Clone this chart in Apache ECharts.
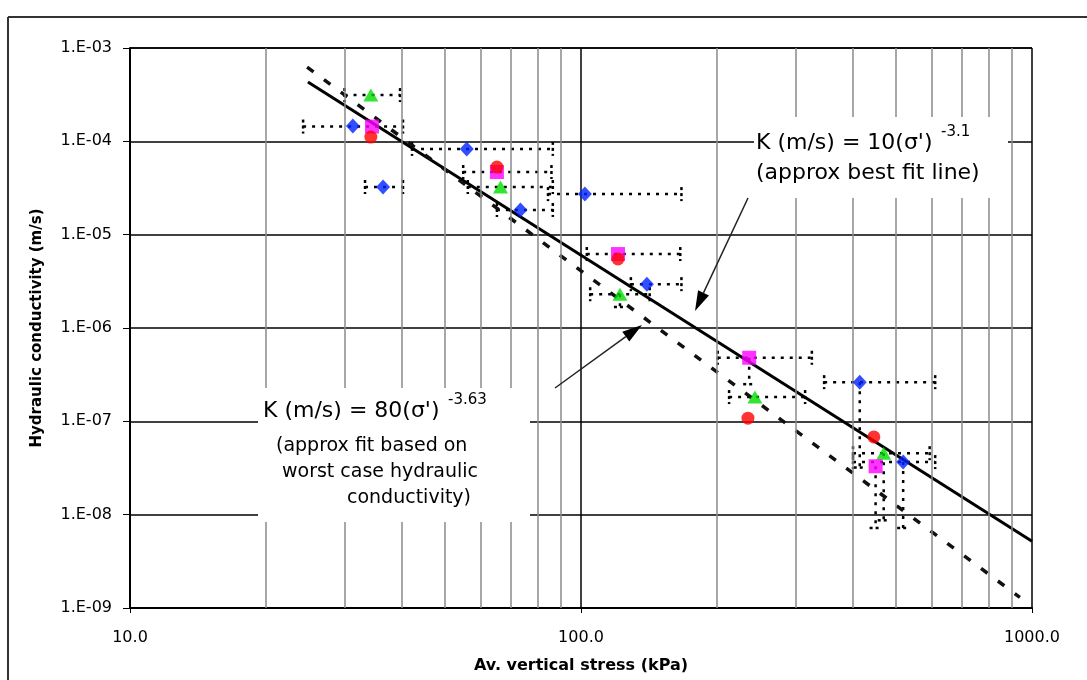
<!DOCTYPE html>
<html>
<head>
<meta charset="utf-8">
<script src="https://cdn.jsdelivr.net/npm/echarts/dist/echarts.min.js"></script>
<style>
  body { margin: 0; background: #fff; }
  #main { width: 1087px; height: 680px; }
</style>
</head>
<body>
<div id="main"></div>
<script>
/*------------------------------ data ------------------------------*/
// red circles
var redStress = [34.2, 65.1, 120.8, 234.5, 446];
var redK = [1.11e-4, 5.3e-5, 5.5e-6, 1.08e-7, 6.8e-8];

// magenta squares (+ dotted error ranges, 0 = none)
var magStress = [34.4, 65.1, 120.8, 236, 450];
var magK = [1.44e-4, 4.69e-5, 6.2e-6, 4.8e-7, 3.3e-8];
var magStressLo = [24.2, 54.8, 103, 201, 0];
var magStressHi = [40.3, 86.0, 166, 325, 0];
var magKLo = [0, 0, 0, 2.5e-7, 7.2e-9];

// green triangles
var greenStress = [34.2, 66.3, 122, 243, 469];
var greenK = [3.13e-4, 3.24e-5, 2.3e-6, 1.82e-7, 4.56e-8];
var greenStressLo = [29.9, 56.1, 104.8, 213, 401];
var greenStressHi = [39.7, 86.6, 142, 314, 593];
var greenKLo = [0, 0, 1.68e-6, 0, 8.7e-9];

// blue diamonds
var blueStress = [31.2, 36.4, 55.8, 73.4, 102, 140, 415, 518];
var blueK = [1.46e-4, 3.24e-5, 8.3e-5, 1.84e-5, 2.72e-5, 2.95e-6, 2.63e-7, 3.66e-8];
var blueStressLo = [0, 33.2, 42.2, 65.1, 84.5, 129, 346, 401];
var blueStressHi = [0, 40.3, 86.6, 86.6, 167, 167, 610, 610];
var blueKLo = [0, 0, 0, 0, 0, 0, 3.2e-8, 7.2e-9];

// fit lines (end points)
var fitStress = [24.8, 1000];
var fitK = [4.33e-4, 5.2e-9];
var worstStress = [24.7, 940];
var worstK = [6.25e-4, 1.3e-9];

// minor vertical grid lines
var minorStress = [20, 30, 40, 50, 60, 70, 80, 90, 200, 300, 400, 500, 600, 700, 800, 900];

/*------------------------------ helpers ------------------------------*/
function pairs(xs, ys) {
    return xs.map(function (x, i) { return [x, ys[i]]; });
}
var errData = [];
function addErr(xs, ys, lo, hi, klo) {
    for (var i = 0; i < xs.length; i++) {
        errData.push([xs[i], ys[i], lo ? lo[i] : 0, hi ? hi[i] : 0, klo ? klo[i] : 0]);
    }
}
addErr(magStress, magK, magStressLo, magStressHi, magKLo);
addErr(greenStress, greenK, greenStressLo, greenStressHi, greenKLo);
addErr(blueStress, blueK, blueStressLo, blueStressHi, blueKLo);

function dotLine(x1, y1, x2, y2, dash) {
    return {
        type: 'line',
        shape: { x1: x1, y1: y1, x2: x2, y2: y2 },
        style: { stroke: '#000', lineWidth: 2.5, lineDash: dash || [3, 6] }
    };
}

function renderErr(params, api) {
    var x = api.value(0), y = api.value(1);
    var xlo = api.value(2), xhi = api.value(3), klo = api.value(4);
    var p = api.coord([x, y]);
    var ch = [];
    if (xlo > 0) {
        var a = api.coord([xlo, y]), b = api.coord([xhi, y]);
        ch.push(dotLine(a[0], a[1], b[0], b[1]));
        ch.push(dotLine(a[0], a[1] - 7, a[0], a[1] + 7, [3, 3]));
        ch.push(dotLine(b[0], b[1] - 7, b[0], b[1] + 7, [3, 3]));
    }
    if (klo > 0) {
        var c = api.coord([x, klo]);
        ch.push(dotLine(p[0], p[1], c[0], c[1]));
        ch.push(dotLine(c[0] - 6, c[1], c[0] + 6, c[1], [3, 3]));
    }
    return { type: 'group', children: ch };
}

// arrow = line + filled head
function arrow(x1, y1, x2, y2) {
    var dx = x2 - x1, dy = y2 - y1, L = Math.sqrt(dx * dx + dy * dy);
    var ux = dx / L, uy = dy / L, hl = 20, hw = 6;
    var bx = x2 - ux * hl, by = y2 - uy * hl;
    return [
        { type: 'line', z: 60, shape: { x1: x1, y1: y1, x2: bx, y2: by }, style: { stroke: '#222', lineWidth: 1.5 } },
        { type: 'polygon', z: 60, shape: { points: [[x2, y2], [bx - uy * hw, by + ux * hw], [bx + uy * hw, by - ux * hw]] }, style: { fill: '#000' } }
    ];
}

function txt(x, y, s, size) {
    return {
        type: 'text', z: 55, x: x, y: y,
        style: { text: s, fontFamily: 'DejaVu Sans', fontSize: size, fill: '#000', verticalAlign: 'middle' }
    };
}

var FONT = 'DejaVu Sans';

/*------------------------------ chart ------------------------------*/
var myChart = echarts.init(document.getElementById('main'));

var option = {
    animation: false,
    grid: { left: 130, right: 55, top: 48, bottom: 72 },
    xAxis: {
        type: 'log',
        logBase: 10,
        min: 10,
        max: 1000,
        interval: 1,
        name: 'Av. vertical stress (kPa)',
        nameLocation: 'middle',
        nameGap: 50,
        nameTextStyle: { fontFamily: FONT, fontSize: 16, fontWeight: 'bold', color: '#000' },
        axisLine: { lineStyle: { color: '#000', width: 2 } },
        axisTick: { show: true, length: 5, lineStyle: { color: '#000' } },
        axisLabel: {
            margin: 22, fontFamily: FONT, fontSize: 16, color: '#000',
            formatter: function (v) { return v.toFixed(1); }
        },
        splitLine: { show: true, lineStyle: { color: '#000', width: 1.5 } }
    },
    yAxis: {
        type: 'log',
        logBase: 10,
        min: 1e-9,
        max: 1e-3,
        interval: 1,
        name: 'Hydraulic conductivity (m/s)',
        nameLocation: 'middle',
        nameGap: 85,
        nameTextStyle: { fontFamily: FONT, fontSize: 15, fontWeight: 'bold', color: '#000' },
        axisLine: { lineStyle: { color: '#000', width: 2 } },
        axisTick: { show: true, length: 7, lineStyle: { color: '#000' } },
        axisLabel: {
            margin: 18, fontFamily: FONT, fontSize: 16, color: '#000',
            formatter: function (v) {
                var e = Math.round(Math.log10(v));
                return '1.E-' + ('0' + (-e)).slice(-2);
            }
        },
        splitLine: { show: true, lineStyle: { color: '#000', width: 1.5 } }
    },
    series: [
        {   // minor vertical grid
            type: 'line', data: [], z: 1, silent: true,
            markLine: {
                silent: true, symbol: 'none', label: { show: false },
                lineStyle: { color: '#8a8a8a', width: 1.5, type: 'solid' },
                data: minorStress.map(function (v) { return { xAxis: v }; })
            }
        },
        {   // error bars
            type: 'custom', z: 3, clip: false, silent: true,
            encode: { x: 0, y: 1 },
            renderItem: renderErr,
            data: errData
        },
        {
            name: 'best fit', type: 'line', z: 4, symbol: 'none', silent: true,
            lineStyle: { color: '#000', width: 3 },
            data: pairs(fitStress, fitK)
        },
        {
            name: 'worst case', type: 'line', z: 4, symbol: 'none', silent: true,
            lineStyle: { color: '#111', width: 3.5, type: [8, 13] },
            data: pairs(worstStress, worstK)
        },
        {
            type: 'scatter', z: 5, symbol: 'diamond', symbolSize: [14, 15],
            itemStyle: { color: '#0022ff' },
            data: pairs(blueStress, blueK)
        },
        {
            type: 'scatter', z: 6, symbol: 'triangle', symbolSize: [15, 13],
            itemStyle: { color: '#00dd00' },
            data: pairs(greenStress, greenK)
        },
        {
            type: 'scatter', z: 7, symbol: 'rect', symbolSize: 14,
            itemStyle: { color: '#ff00ff' },
            data: pairs(magStress, magK)
        },
        {
            type: 'scatter', z: 8, symbol: 'circle', symbolSize: 13,
            itemStyle: { color: '#ff0000' },
            data: pairs(redStress, redK)
        }
    ],
    graphic: [
        // outer frame
        { type: 'line', z: 50, shape: { x1: 8, y1: 17, x2: 1087, y2: 17 }, style: { stroke: '#333', lineWidth: 2 } },
        { type: 'line', z: 50, shape: { x1: 8, y1: 17, x2: 8, y2: 680 }, style: { stroke: '#333', lineWidth: 2 } },
        // label boxes
        { type: 'rect', z: 50, shape: { x: 754, y: 117, width: 254, height: 81 }, style: { fill: '#fff' } },
        { type: 'rect', z: 50, shape: { x: 258, y: 388, width: 272, height: 134 }, style: { fill: '#fff' } },
        txt(756, 143, "K (m/s) = 10(σ')", 22),
        txt(941, 132, '-3.1', 15),
        txt(756, 173, '(approx best fit line)', 22),
        txt(263, 411, "K (m/s) = 80(σ')", 22),
        txt(448, 400, '-3.63', 15),
        txt(276, 446, '(approx fit based on', 19),
        txt(282, 472, 'worst case hydraulic', 19),
        txt(347, 498, 'conductivity)', 19)
    ].concat(arrow(748, 198, 695, 311)).concat(arrow(555, 388, 642, 325))
};

myChart.setOption(option);
</script>
</body>
</html>
